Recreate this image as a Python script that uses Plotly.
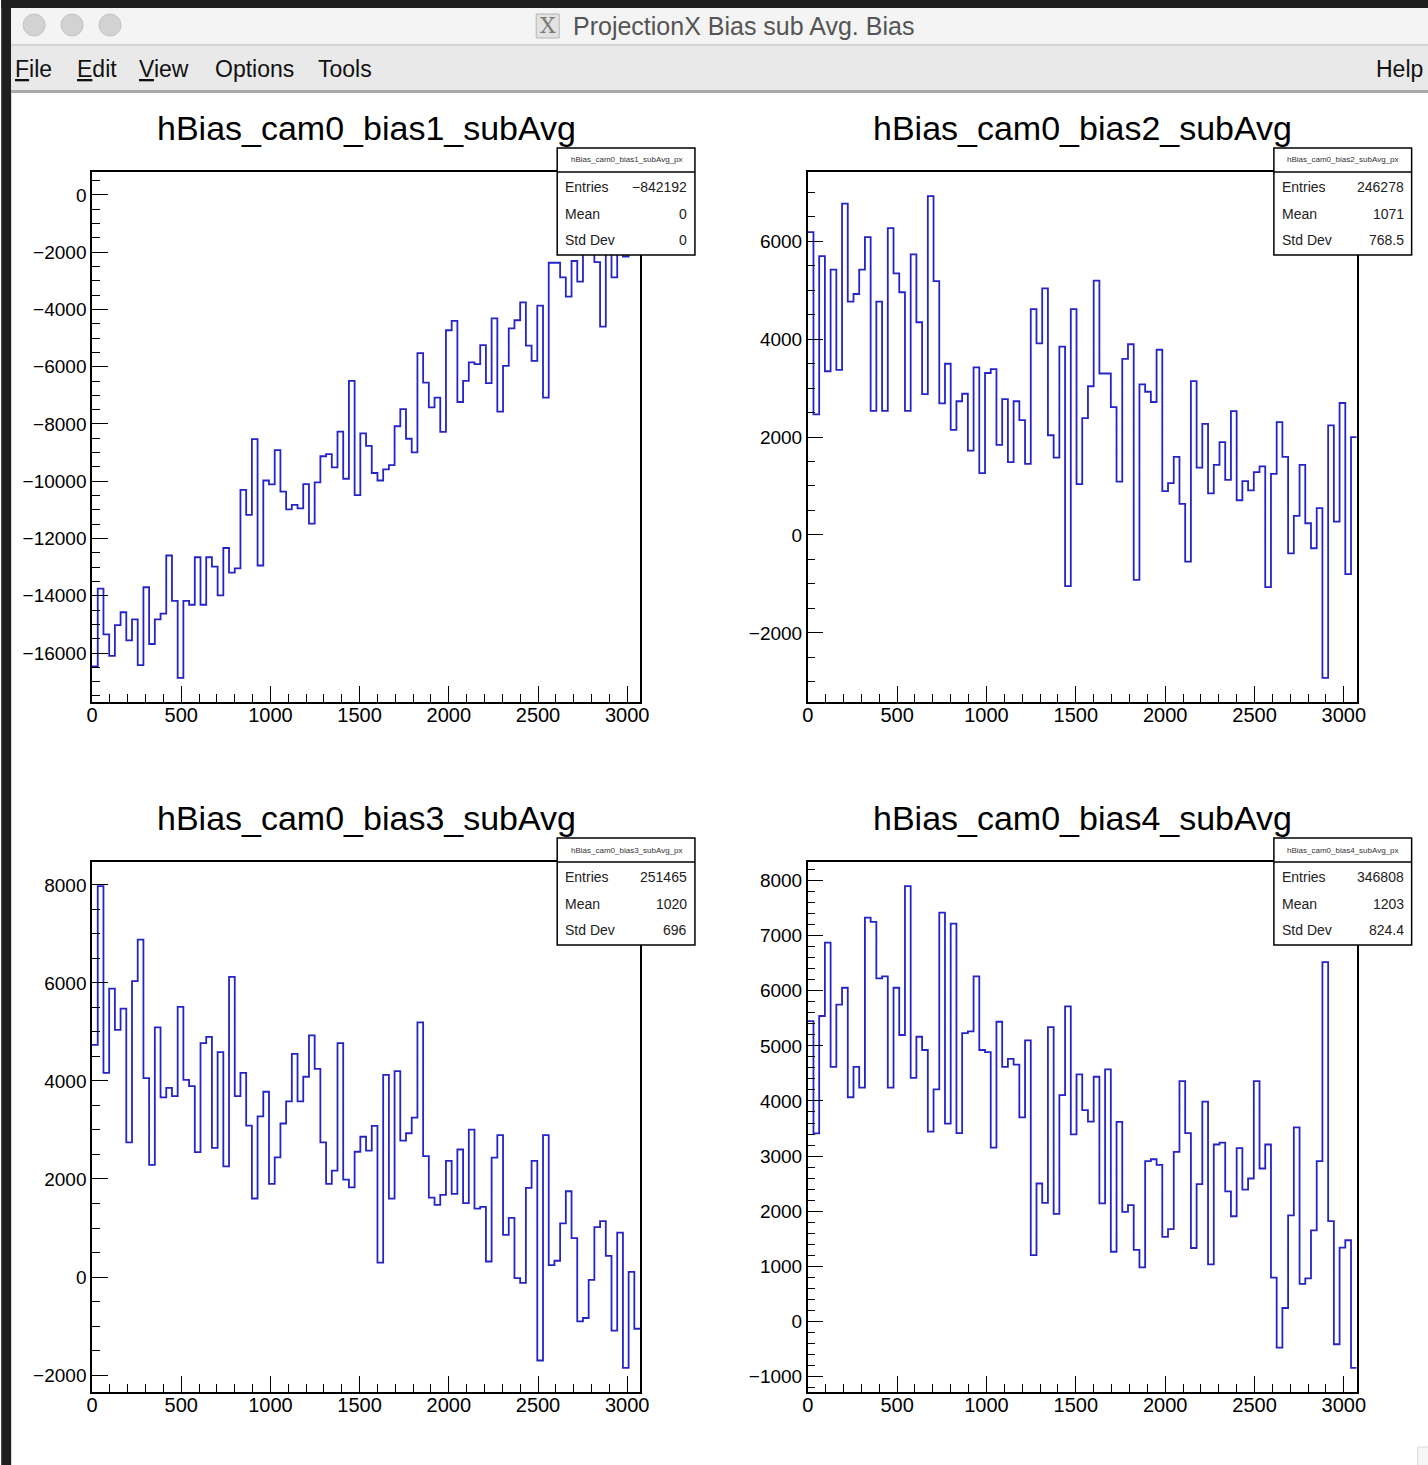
import plotly.graph_objects as go

W, H = 1428, 1465
FONT = "Liberation Sans, Arial, Helvetica, sans-serif"

# ---------------- data (bin contents, 96 bins of width 32 from 0 to 3072) ----------------
NBINS = 96
BIN_W = 32

bias1 = [-16471, -13753, -15349, -16097, -15025, -14576, -15561, -14826, -16421, -13703,
         -15686, -14826, -14626, -12594, -14177, -16870, -14177, -14314, -12656, -14314,
         -12656, -12980, -13990, -12332, -13192, -13042, -10299, -11172, -8529, -12943,
         -9975, -10112, -8915, -10362, -10985, -10823, -10948, -10100, -11484, -10038,
         -9127, -9052, -9514, -8267, -9913, -6496, -10486, -8329, -8766, -9713,
         -9975, -9589, -9439, -8080, -7481, -8516, -8990, -5524, -6559, -7419,
         -7082, -8279, -4726, -4402, -7232, -6496, -5848, -5910, -5249, -6571,
         -4314, -7569, -5973, -4663, -4377, -3753, -5262, -5798, -3865, -7082,
         -2369, -2369, -2880, -3554, -2307, -3030, -1700, -1900, -2344, -4601,
         -1600, -2880, -1800, -2150, -1900, -40]

bias2 = [6182, 2460, 5693, 3343, 5416, 3372, 6766, 4766, 4920, 5416,
         6080, 2533, 4766, 2533, 6263, 5343, 4956, 2533, 5730, 4343,
         2876, 6919, 5182, 2686, 3496, 2146, 2730, 2883, 1723, 3423,
         1263, 3307, 3387, 1839, 2774, 1489, 2730, 2343, 1453, 4613,
         3912, 5036, 2036, 1577, 3847, -1044, 4613, 1036, 2387, 3036,
         5192, 3297, 3297, 2611, 1089, 3596, 3894, -918, 3073, 2924,
         2715, 3782, 895, 1059, 1596, 634, -545, 3141, 1373, 2268,
         850, 1432, 1895, 1126, 2529, 709, 1097, 910, 1283, 1402,
         -1067, 1246, 2305, 1596, -375, 389, 1432, 239, -272, 546,
         -2919, 2237, 273, 2694, -798, 1999]

bias3 = [4734, 7975, 4166, 5885, 5040, 5477, 2746, 6038, 6882, 4057,
         2287, 5091, 3663, 3860, 3692, 5513, 4020, 3896, 2549, 4770,
         4901, 2636, 4588, 2258, 6125, 3692, 4166, 3088, 1602, 3277,
         3780, 1901, 2440, 3132, 3583, 4552, 3583, 4086, 4931, 4246,
         2746, 1901, 2170, 4770, 1988, 1828, 2556, 2862, 2579, 3084,
         294, 4124, 1599, 4200, 2782, 2933, 3250, 5195, 2466, 1621,
         1471, 1674, 2369, 1697, 2601, 1508, 3008, 1395, 1433, 317,
         2436, 2895, 860, 1207, -22, -120, 1817, 2369, -1703, 2895,
         242, 332, 1094, 1750, 792, -904, -836, -60, 1018, 1139,
         430, -1093, 905, -1854, 106, -1055]

bias4 = [5450, 3411, 5543, 6875, 4620, 5751, 6056, 4068, 4620, 4243,
         7329, 7252, 6225, 6264, 4243, 6056, 5198, 7902, 4419, 5166,
         4926, 3444, 4211, 7421, 3587, 7219, 3418, 5231, 5263, 6264,
         4926, 4886, 3152, 5439, 4620, 4763, 4659, 3704, 5101, 1202,
         2502, 2151, 5341, 1949, 4107, 5718, 3392, 4484, 3834, 3626,
         4440, 2142, 4574, 1262, 3620, 1988, 2109, 1296, 980, 2908,
         2942, 2841, 1531, 1672, 3076, 4359, 3418, 1330, 2492, 3989,
         1034, 3210, 3244, 2357, 1907, 3143, 2391, 2592, 4359, 2774,
         3210, 792, -477, 241, 1921, 3519, 678, 779, 1652, 2908,
         6522, 1820, -417, 1336, 1471, -847]

titles = ["hBias_cam0_bias1_subAvg", "hBias_cam0_bias2_subAvg",
          "hBias_cam0_bias3_subAvg", "hBias_cam0_bias4_subAvg"]
stat_names = ["hBias_cam0_bias1_subAvg_px", "hBias_cam0_bias2_subAvg_px",
              "hBias_cam0_bias3_subAvg_px", "hBias_cam0_bias4_subAvg_px"]
stat_labels = ["Entries", "Mean", "Std Dev"]
stat_values = [["\u2212842192", "0", "0"],
               ["246278", "1071", "768.5"],
               ["251465", "1020", "696"],
               ["346808", "1203", "824.4"]]

x_tick_step, x_minor_step = 500, 100
y_tick_steps = [2000, 2000, 2000, 1000]
y_minor_steps = [500, 500, 500, 200]

window_title = "ProjectionX Bias sub Avg. Bias"
menu_items = ["<u>F</u>ile", "<u>E</u>dit", "<u>V</u>iew", "Options", "Tools"]
menu_x = [12, 74, 136, 212, 315]

# ---------------- helpers ----------------
# the photographed page comes out slightly squeezed horizontally; place things so
# that they land on the intended pixel columns
SX_OFF, SX_SCALE = 4.8, 0.9913


def fx(p):
    return ((p - SX_OFF) / SX_SCALE) / W


def fy(p):
    return 1 - p / H


edges = [i * BIN_W for i in range(NBINS + 1)]
series = [bias1, bias2, bias3, bias4]

# frame pixel boxes (left, right, top, bottom)
frames = [(91, 640, 172, 702), (808, 1358, 172, 702),
          (91, 640, 862, 1392), (808, 1358, 862, 1392)]

fig = go.Figure()
shapes = []
annotations = []
layout_axes = {}

LINE_COLOR = "#2424c8"

for i, vals in enumerate(series):
    s = "" if i == 0 else str(i + 1)
    l, r, t, b = frames[i]
    fig.add_trace(go.Scatter(
        x=edges, y=vals + [vals[-1]], mode="lines",
        line=dict(shape="hv", color=LINE_COLOR, width=1.8),
        xaxis="x" + s, yaxis="y" + s, hoverinfo="skip", showlegend=False))
    vmin, vmax = min(vals), max(vals)
    span = vmax - vmin
    yr = [vmin - 0.05 * span, vmax + 0.05 * span]
    layout_axes["xaxis" + s] = dict(
        domain=[fx(l), fx(r)], range=[0, NBINS * BIN_W], anchor="y" + s,
        showline=True, linecolor="black", linewidth=1.5, mirror=True,
        ticks="inside", ticklen=16, tickwidth=1.3, tickcolor="black",
        tick0=0, dtick=x_tick_step, tickformat="d", ticklabelstandoff=-6,
        tickfont=dict(family=FONT, size=20, color="black"),
        showgrid=False, zeroline=False, fixedrange=True,
        minor=dict(dtick=x_minor_step, tick0=0, ticks="inside", ticklen=8,
                   tickwidth=1.3, tickcolor="black", showgrid=False))
    layout_axes["yaxis" + s] = dict(
        domain=[fy(b), fy(t)], range=yr, anchor="x" + s,
        showline=True, linecolor="black", linewidth=1.5, mirror=True,
        ticks="inside", ticklen=16, tickwidth=1.3, tickcolor="black",
        tick0=0, dtick=y_tick_steps[i], tickformat="d", ticklabelstandoff=0,
        tickfont=dict(family=FONT, size=19, color="black"),
        showgrid=False, zeroline=False, fixedrange=True,
        minor=dict(dtick=y_minor_steps[i], tick0=0, ticks="inside", ticklen=8,
                   tickwidth=1.3, tickcolor="black", showgrid=False))

    # title
    annotations.append(dict(x=fx((l + r) / 2), y=fy(t - 44), xref="paper", yref="paper",
                            text=titles[i], showarrow=False, xanchor="center", yanchor="middle",
                            font=dict(family=FONT, size=34, color="black")))
    # stats box
    bx0, bx1 = r - 83, r + 55
    by0, by1 = t - 24, t + 83
    shapes.append(dict(type="rect", xref="paper", yref="paper", layer="above",
                       x0=fx(bx0), x1=fx(bx1), y0=fy(by1), y1=fy(by0),
                       fillcolor="white", line=dict(color="black", width=1.5)))
    shapes.append(dict(type="line", xref="paper", yref="paper", layer="above",
                       x0=fx(bx0), x1=fx(bx1), y0=fy(t), y1=fy(t),
                       line=dict(color="black", width=1.5)))
    annotations.append(dict(x=fx((bx0 + bx1) / 2), y=fy(by0 + 12), xref="paper", yref="paper",
                            text=stat_names[i], showarrow=False, xanchor="center", yanchor="middle",
                            font=dict(family=FONT, size=8, color="#333333")))
    for j, lab in enumerate(stat_labels):
        yy = t + 15 + j * 26.5
        annotations.append(dict(x=fx(bx0 + 6), y=fy(yy), xref="paper", yref="paper",
                                text=lab, showarrow=False, xanchor="left", yanchor="middle",
                                font=dict(family=FONT, size=14, color="#222222")))
        annotations.append(dict(x=fx(bx1 - 6), y=fy(yy), xref="paper", yref="paper",
                                text=stat_values[i][j], showarrow=False, xanchor="right",
                                yanchor="middle",
                                font=dict(family=FONT, size=14, color="#222222")))

# ---------------- window chrome ----------------
def rect(x0, y0, x1, y1, fill, line=None, layer="below"):
    shapes.append(dict(type="rect", xref="paper", yref="paper", layer=layer,
                       x0=fx(x0), x1=fx(x1), y0=fy(y1), y1=fy(y0),
                       fillcolor=fill,
                       line=dict(width=0) if line is None else line))


rect(0, 0, W + 20, 8, "#1f1f1f")
rect(0, 0, 10, H, "#1f1f1f")
rect(10, 8, W + 20, 44, "#f4f4f4")
rect(10, 44, W + 20, 46, "#d4d4d4")
rect(10, 46, W + 20, 90, "#e9e9e9")
rect(10, 90, W + 20, 93, "#a9a9a9")
rect(1419, 1447, W + 20, H + 5, "#f6f6f6", line=dict(color="#dcdcdc", width=1))
for cx in (33, 71, 109):
    shapes.append(dict(type="circle", xref="paper", yref="paper", layer="below",
                       x0=fx(cx - 11), x1=fx(cx + 11), y0=fy(25 + 11), y1=fy(25 - 11),
                       fillcolor="#d2d2d2", line=dict(color="#c2c2c2", width=1)))
rect(536, 14, 559, 38, "#e2e2e2", line=dict(color="#b5b5b5", width=1))
annotations.append(dict(x=fx(547.5), y=fy(26), xref="paper", yref="paper", text="X",
                        showarrow=False, xanchor="center", yanchor="middle",
                        font=dict(family="DejaVu Serif, serif", size=22, color="#7a7a7a")))
annotations.append(dict(x=fx(571), y=fy(26), xref="paper", yref="paper", text=window_title,
                        showarrow=False, xanchor="left", yanchor="middle",
                        font=dict(family=FONT, size=25, color="#555555")))
for mx, mt in zip(menu_x, menu_items):
    annotations.append(dict(x=fx(mx), y=fy(69), xref="paper", yref="paper", text=mt,
                            showarrow=False, xanchor="left", yanchor="middle",
                            font=dict(family=FONT, size=23, color="#111111")))
annotations.append(dict(x=fx(1426), y=fy(69), xref="paper", yref="paper", text="Help",
                        showarrow=False, xanchor="right", yanchor="middle",
                        font=dict(family=FONT, size=23, color="#111111")))

fig.update_layout(
    width=W, height=H, autosize=False,
    margin=dict(l=0, r=0, t=0, b=0, pad=0),
    paper_bgcolor="white", plot_bgcolor="white",
    shapes=shapes, annotations=annotations, showlegend=False,
    **layout_axes)

fig.write_html("out.html", config={"displayModeBar": False},
               post_script="document.body.style.margin='0';"
                           "document.body.style.overflow='hidden';"
                           "document.documentElement.style.overflow='hidden';")
